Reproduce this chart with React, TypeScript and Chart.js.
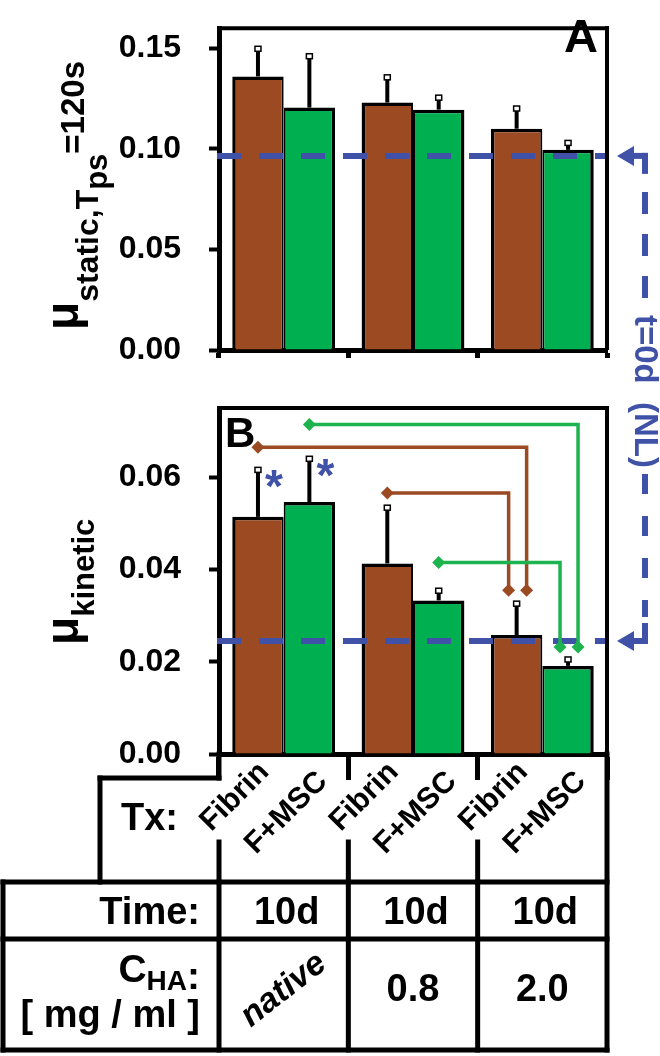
import React, { useEffect, useRef } from "react";
import { Chart, registerables } from "chart.js";

Chart.register(...registerables);

const FONT = "'Liberation Sans', Arial, Helvetica, sans-serif";
const BROWN = "#9C4A22";
const GREEN = "#00B050";
const BLUE = "#3F52A8";

// ---------- data ----------
const categories = ["native", "0.8", "2.0"];
const treatments = ["Fibrin", "F+MSC"];
const timeLabels = ["10d", "10d", "10d"];

const staticFibrin = [0.136, 0.123, 0.11];
const staticFibrinSD = [0.014, 0.0128, 0.0103];
const staticFMSC = [0.1205, 0.1195, 0.0995];
const staticFMSCSD = [0.0258, 0.0062, 0.0037];
const staticBaseline = 0.0965;
const staticTicks = [0, 0.05, 0.1, 0.15];
const staticMax = 0.16;

const kineticFibrin = [0.0514, 0.0413, 0.0258];
const kineticFibrinSD = [0.0103, 0.0122, 0.0069];
const kineticFMSC = [0.0546, 0.0333, 0.0191];
const kineticFMSCSD = [0.0095, 0.0022, 0.0015];
const kineticBaseline = 0.0245;
const kineticTicks = [0, 0.02, 0.04, 0.06];
const kineticMax = 0.075;

// significance brackets (series index, from category, to category, level, end)
const bracketSeries = [0, 0, 1, 1];
const bracketFrom = [0, 1, 0, 1];
const bracketTo = [2, 2, 2, 2];
const bracketLevel = [0.0665, 0.0566, 0.0714, 0.0415];
const bracketEnd = [0.0355, 0.0355, 0.0232, 0.0232];

// asterisks (series index, category)
const starSeries = [0, 1];
const starCategory = [0, 0];

// ---------- helpers ----------
const f = (size: number, style = "bold") => `${style} ${size}px ${FONT}`;

function line(ctx: CanvasRenderingContext2D, x1: number, y1: number, x2: number, y2: number) {
  ctx.beginPath();
  ctx.moveTo(x1, y1);
  ctx.lineTo(x2, y2);
  ctx.stroke();
}

function barDataset(label: string, data: number[], color: string, side: number) {
  return {
    label,
    data,
    backgroundColor: color,
    borderColor: "#000",
    borderWidth:
      side === 0
        ? { left: 3.5, right: 2, top: 3.5, bottom: 0 }
        : { left: 2, right: 3.5, top: 3.5, bottom: 0 },
    borderSkipped: false,
    barPercentage: 1,
    categoryPercentage: 0.795,
  };
}

function yScale(max: number, ticks: number[]) {
  return {
    type: "linear",
    position: "left",
    min: 0,
    max,
    z: 1,
    afterBuildTicks: (s: any) => {
      s.ticks = ticks.map((v) => ({ value: v }));
    },
    afterFit: (s: any) => {
      s.width = 219;
    },
    ticks: {
      color: "#000",
      padding: 28,
      font: { family: FONT, size: 32, weight: "bold", lineHeight: 0.01 },
      callback: (v: any) => Number(v).toFixed(2),
    },
    grid: { drawOnChartArea: false, drawTicks: true, tickLength: 10, tickWidth: 4, tickColor: "#000" },
    border: { display: true, width: 5, color: "#000" },
  };
}

function xScale(tickLen: number, height: number) {
  return {
    type: "category",
    position: "bottom",
    offset: true,
    z: 1,
    grid: { offset: true, drawOnChartArea: false, drawTicks: true, tickLength: tickLen, tickWidth: 5, tickColor: "#000" },
    border: { display: true, width: 5, color: "#000" },
    ticks: { display: false },
    afterFit: (s: any) => {
      s.height = height;
    },
  };
}

function drawErrorBars(chart: any, sds: number[][]) {
  const { ctx } = chart;
  const ys = chart.scales.y;
  ctx.save();
  sds.forEach((sd, d) => {
    const meta = chart.getDatasetMeta(d);
    meta.data.forEach((el: any, i: number) => {
      const v = chart.data.datasets[d].data[i] as number;
      const yTop = ys.getPixelForValue(v + sd[i]);
      ctx.strokeStyle = "#000";
      ctx.lineWidth = 4;
      line(ctx, el.x, el.y, el.x, yTop + 2);
      ctx.fillStyle = "#fff";
      ctx.lineWidth = 1.5;
      ctx.fillRect(el.x - 3, yTop - 2, 6, 5);
      ctx.strokeRect(el.x - 3, yTop - 2, 6, 5);
    });
  });
  ctx.restore();
}

function drawBaseline(chart: any, v: number) {
  const { ctx, chartArea: ca } = chart;
  const y = chart.scales.y.getPixelForValue(v);
  ctx.save();
  ctx.strokeStyle = BLUE;
  ctx.lineWidth = 6;
  ctx.setLineDash([24, 18]);
  line(ctx, ca.left - 2, y, ca.right - 2, y);
  ctx.restore();
}

function drawFrame(chart: any) {
  const { ctx, chartArea: ca } = chart;
  ctx.save();
  ctx.strokeStyle = "#000";
  ctx.lineWidth = 4;
  line(ctx, ca.left, ca.top, ca.right + 2, ca.top);
  line(ctx, ca.right, ca.top - 2, ca.right, ca.bottom);
  ctx.restore();
}

function drawYTitle(ctx: CanvasRenderingContext2D, startY: number, parts: { t: string; size: number; x: number }[]) {
  ctx.save();
  ctx.fillStyle = "#000";
  ctx.textAlign = "left";
  ctx.textBaseline = "alphabetic";
  let y = startY;
  for (const p of parts) {
    ctx.font = f(p.size);
    const w = ctx.measureText(p.t).width;
    ctx.save();
    ctx.translate(p.x, y);
    ctx.rotate(-Math.PI / 2);
    ctx.fillText(p.t, 0, 0);
    ctx.restore();
    y -= w;
  }
  ctx.restore();
}

function diamond(ctx: CanvasRenderingContext2D, x: number, y: number, r: number) {
  ctx.beginPath();
  ctx.moveTo(x, y - r);
  ctx.lineTo(x + r, y);
  ctx.lineTo(x, y + r);
  ctx.lineTo(x - r, y);
  ctx.closePath();
  ctx.fill();
}

function drawBrackets(chart: any) {
  const { ctx } = chart;
  const ys = chart.scales.y;
  ctx.save();
  ctx.lineWidth = 3.5;
  for (let k = 0; k < bracketLevel.length; k++) {
    const d = bracketSeries[k];
    const meta = chart.getDatasetMeta(d);
    const x0 = meta.data[bracketFrom[k]].x;
    const xb = meta.data[bracketTo[k]].x;
    const sameLevels = bracketLevel.filter((_, j) => bracketSeries[j] === d && bracketTo[j] === bracketTo[k]);
    const outer = bracketLevel[k] === Math.max(...sameLevels);
    const x1 = xb + (outer ? 10 : -8);
    const yL = ys.getPixelForValue(bracketLevel[k]);
    const yE = ys.getPixelForValue(bracketEnd[k]);
    const color = d === 0 ? BROWN : "#1DB34F";
    ctx.strokeStyle = color;
    ctx.fillStyle = color;
    ctx.beginPath();
    ctx.moveTo(x0, yL);
    ctx.lineTo(x1, yL);
    ctx.lineTo(x1, yE);
    ctx.stroke();
    diamond(ctx, x0, yL, 6.5);
    diamond(ctx, x1, yE, 6.5);
  }
  ctx.restore();
}

function drawStars(chart: any, sds: number[][]) {
  const { ctx } = chart;
  const ys = chart.scales.y;
  ctx.save();
  ctx.fillStyle = BLUE;
  ctx.font = f(46);
  ctx.textAlign = "center";
  ctx.textBaseline = "alphabetic";
  for (let k = 0; k < starSeries.length; k++) {
    const d = starSeries[k];
    const i = starCategory[k];
    const el = chart.getDatasetMeta(d).data[i];
    const v = chart.data.datasets[d].data[i] as number;
    const yTop = ys.getPixelForValue(v + sds[d][i]);
    ctx.fillText("*", el.x + 16, yTop + 8 + 25);
  }
  ctx.restore();
}

function drawTable(chart: any) {
  const { ctx, chartArea: ca } = chart;
  const xs = chart.scales.x;
  const n = categories.length;
  const cw = (ca.right - ca.left) / n;
  const bounds = Array.from({ length: n + 1 }, (_, i) => ca.left + i * cw);
  const stepY = 778;
  const txLeft = 100;
  const row1 = 882;
  const row2 = 939;
  const row3 = 1050;
  const tableLeft = 3;
  const sepTop = 842;

  ctx.save();
  ctx.strokeStyle = "#000";
  ctx.lineWidth = 5;
  ctx.lineCap = "square";
  line(ctx, ca.left, ca.bottom, ca.left, stepY);
  line(ctx, txLeft, stepY, ca.left, stepY);
  line(ctx, txLeft, stepY, txLeft, row1);
  line(ctx, ca.right, ca.bottom, ca.right, row3);
  [row1, row2, row3].forEach((y) => line(ctx, tableLeft, y, ca.right, y));
  line(ctx, tableLeft, row1, tableLeft, row3);
  for (let i = 0; i < n; i++) {
    line(ctx, bounds[i], row1, bounds[i], row3);
    line(ctx, bounds[i], sepTop, bounds[i], row1);
  }

  ctx.fillStyle = "#000";
  ctx.textBaseline = "alphabetic";
  ctx.textAlign = "right";
  ctx.font = f(38);
  ctx.fillText("Tx:", 178, 830);

  for (let i = 0; i < n; i++) {
    for (let d = 0; d < treatments.length; d++) {
      const el = chart.getDatasetMeta(d).data[i];
      ctx.save();
      ctx.translate(el.x - 23, d === 0 ? 797 : 813);
      ctx.rotate(-Math.PI / 4);
      ctx.font = f(30);
      ctx.textAlign = "center";
      ctx.textBaseline = "middle";
      ctx.fillText(treatments[d], 0, 0);
      ctx.restore();
    }
  }

  ctx.font = f(38);
  ctx.textAlign = "right";
  ctx.fillText("Time:", 200, 924);
  ctx.textAlign = "center";
  for (let i = 0; i < n; i++) ctx.fillText(timeLabels[i], xs.getPixelForValue(i) + 3, 924);

  // C_HA:
  ctx.textAlign = "left";
  ctx.font = f(39);
  const cW = ctx.measureText("C").width;
  const colW = ctx.measureText(":").width;
  ctx.font = f(28);
  const haW = ctx.measureText("HA").width;
  const x0 = 200 - (cW + haW + colW);
  ctx.font = f(39);
  ctx.fillText("C", x0, 982);
  ctx.font = f(28);
  ctx.fillText("HA", x0 + cW, 990);
  ctx.font = f(39);
  ctx.fillText(":", x0 + cW + haW, 989);
  ctx.font = f(38);
  ctx.textAlign = "right";
  ctx.fillText("[ mg / ml ]", 200, 1027);

  for (let i = 0; i < n; i++) {
    const cx = xs.getPixelForValue(i);
    if (categories[i] === "native") {
      ctx.save();
      ctx.translate(cx, 990);
      ctx.rotate((-38 * Math.PI) / 180);
      ctx.font = f(34, "italic bold");
      ctx.textAlign = "center";
      ctx.textBaseline = "middle";
      ctx.fillText(categories[i], 0, 0);
      ctx.restore();
    } else {
      ctx.font = f(38);
      ctx.textAlign = "center";
      ctx.fillText(categories[i], cx, 1001);
    }
  }
  ctx.restore();
}

function drawConnector(chart: any, yTop: number) {
  const { ctx, chartArea: ca } = chart;
  const yBot = chart.scales.y.getPixelForValue(kineticBaseline);
  const xTip = ca.right + 10;
  const xBase = ca.right + 27;
  const xV = ca.right + 38;
  ctx.save();
  ctx.fillStyle = BLUE;
  ctx.strokeStyle = BLUE;
  ctx.lineWidth = 6;
  for (const y of [yTop, yBot]) {
    ctx.beginPath();
    ctx.moveTo(xTip, y);
    ctx.lineTo(xBase, y - 10);
    ctx.lineTo(xBase, y + 10);
    ctx.closePath();
    ctx.fill();
    line(ctx, xBase - 1, y, xV + 3, y);
  }
  line(ctx, xV, yTop - 3, xV, yTop + 18);
  line(ctx, xV, yBot + 3, xV, yBot - 18);

  const label = "t=0d  (NL)";
  ctx.font = f(33);
  const w = ctx.measureText(label).width;
  const yMid = (yTop + yBot) / 2 - 7;
  ctx.save();
  ctx.translate(xV - 1, yMid);
  ctx.rotate(Math.PI / 2);
  ctx.textAlign = "center";
  ctx.textBaseline = "middle";
  ctx.fillText(label, 0, 0);
  ctx.restore();

  ctx.setLineDash([22, 20]);
  line(ctx, xV, yTop + 36, xV, yMid - w / 2 - 6);
  ctx.setLineDash([20, 22]);
  line(ctx, xV, yMid + w / 2 + 6, xV, yBot - 24);
  ctx.restore();
}

export default function App() {
  const refA = useRef<HTMLCanvasElement>(null);
  const refB = useRef<HTMLCanvasElement>(null);

  useEffect(() => {
    const chartA = new Chart(refA.current as HTMLCanvasElement, {
      type: "bar",
      data: {
        labels: categories,
        datasets: [
          barDataset(treatments[0], staticFibrin, BROWN, 0),
          barDataset(treatments[1], staticFMSC, GREEN, 1),
        ] as any,
      },
      options: {
        responsive: false,
        animation: false,
        layout: { padding: { top: 5, right: 53, bottom: 22, left: 0 } },
        plugins: { legend: { display: false }, tooltip: { enabled: false } },
        scales: { x: xScale(8, 8), y: yScale(staticMax, staticTicks) } as any,
      },
      plugins: [
        {
          id: "panelA",
          afterDraw(chart: any) {
            const { ctx } = chart;
            drawErrorBars(chart, [staticFibrinSD, staticFMSCSD]);
            drawBaseline(chart, staticBaseline);
            drawFrame(chart);
            ctx.save();
            ctx.fillStyle = "#000";
            ctx.font = f(47);
            ctx.textAlign = "right";
            ctx.textBaseline = "alphabetic";
            ctx.fillText("A", 598, 52);
            ctx.restore();
            drawYTitle(ctx, 330, [
              { t: "μ", size: 46, x: 78 },
              { t: "static,T", size: 32, x: 98 },
              { t: "ps", size: 31, x: 107 },
              { t: "=120s", size: 33, x: 84 },
            ]);
          },
        },
      ],
    });

    const chartB = new Chart(refB.current as HTMLCanvasElement, {
      type: "bar",
      data: {
        labels: categories,
        datasets: [
          barDataset(treatments[0], kineticFibrin, BROWN, 0),
          barDataset(treatments[1], kineticFMSC, GREEN, 1),
        ] as any,
      },
      options: {
        responsive: false,
        animation: false,
        layout: { padding: { top: 408, right: 53, bottom: 276, left: 0 } },
        plugins: { legend: { display: false }, tooltip: { enabled: false } },
        scales: { x: xScale(26, 26), y: yScale(kineticMax, kineticTicks) } as any,
      },
      plugins: [
        {
          id: "panelB",
          afterDraw(chart: any) {
            const { ctx } = chart;
            drawErrorBars(chart, [kineticFibrinSD, kineticFMSCSD]);
            drawBaseline(chart, kineticBaseline);
            drawBrackets(chart);
            drawStars(chart, [kineticFibrinSD, kineticFMSCSD]);
            drawFrame(chart);
            ctx.save();
            ctx.fillStyle = "#000";
            ctx.font = f(42);
            ctx.textAlign = "left";
            ctx.textBaseline = "alphabetic";
            ctx.fillText("B", 225, 447);
            ctx.restore();
            drawTable(chart);
            drawConnector(chart, chartA.scales.y.getPixelForValue(staticBaseline));
            drawYTitle(ctx, 645, [
              { t: "μ", size: 46, x: 78 },
              { t: "kinetic", size: 31, x: 94 },
            ]);
          },
        },
      ],
    });

    return () => {
      chartB.destroy();
      chartA.destroy();
    };
  }, []);

  return (
    <div style={{ position: "absolute", left: 0, top: 0, width: 660, height: 1056, background: "#fff" }}>
      <canvas ref={refB} width={660} height={1056} style={{ position: "absolute", left: 0, top: 0 }} />
      <canvas ref={refA} width={660} height={380} style={{ position: "absolute", left: 0, top: 0 }} />
    </div>
  );
}
